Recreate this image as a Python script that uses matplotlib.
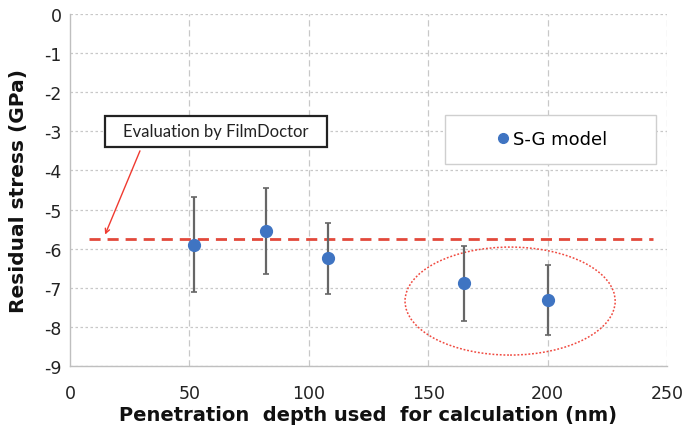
import matplotlib
matplotlib.use("Agg")
import matplotlib.pyplot as plt
from matplotlib.patches import Ellipse, Rectangle
from matplotlib.lines import Line2D

depth = [52, 82, 108, 165, 200]
stress = [-5.90, -5.54, -6.25, -6.89, -7.31]
err = [1.21, 1.10, 0.90, 0.96, 0.90]
film_doctor = -5.75
xticks = [0, 50, 100, 150, 200, 250]
yticks = [0, -1, -2, -3, -4, -5, -6, -7, -8, -9]

plt.rcParams['font.family'] = ['DejaVu Sans']
plt.rcParams['axes.unicode_minus'] = False
fig = plt.figure(figsize=(6.85, 4.27), dpi=100)
ax = fig.add_axes([0.1022, 0.1405, 0.8715, 0.8245])

ax.set_xlim(0, 250)
ax.set_ylim(-9, 0)
ax.set_xticks(xticks)
ax.set_yticks(yticks)
ax.tick_params(length=0, labelsize=12.5, colors='#222222')
ax.tick_params(axis='x', pad=13)
ax.tick_params(axis='y', pad=6)
for s in ['top', 'right']:
    ax.spines[s].set_visible(False)
for s in ['left', 'bottom']:
    ax.spines[s].set_color('#bfbfbf')
    ax.spines[s].set_linewidth(1.0)

for y in yticks:
    ax.axhline(y, color='#c8c8c8', lw=0.9, ls=(0, (2, 2)), zorder=0)
for x in xticks[1:]:
    ax.axvline(x, color='#c8c8c8', lw=0.9, ls=(0, (5, 3)), zorder=0)

ax.plot([8, 244], [film_doctor, film_doctor], color='#e2493b', lw=2.0,
        ls=(0, (4, 2.5)), zorder=2)

ax.errorbar(depth, stress, yerr=err, fmt='o', color='#3f74c2', ms=8.5,
            ecolor='#666666', elinewidth=1.6, capsize=2.2, capthick=1.2, zorder=3)

ell = Ellipse((184.3, -7.34), 88, 2.76, fill=False, edgecolor='#f04a40',
              lw=1.1, ls=(0, (1.2, 1.2)), zorder=2)
ax.add_patch(ell)

# Annotation box
ax.add_patch(Rectangle((0.0586, 0.622), 0.372, 0.088, transform=ax.transAxes,
                       facecolor='white', edgecolor='#222222', lw=1.6, zorder=4))
ax.text(0.2446, 0.668, 'Evaluation by FilmDoctor', transform=ax.transAxes,
        ha='center', va='center', fontsize=12, family='Lato', color='#222222', zorder=5)
ax.annotate('', xy=(14.7, -5.64), xytext=(29.3, -3.5),
            arrowprops=dict(arrowstyle='->', color='#f03a30', lw=1.0,
                            shrinkA=0, shrinkB=0, mutation_scale=8), zorder=5)

# Legend box
ax.add_patch(Rectangle((0.628, 0.574), 0.353, 0.139, transform=ax.transAxes,
                       facecolor='white', edgecolor='#cfcfcf', lw=1.0, zorder=4))
h = Line2D([], [], marker='o', color='#3f74c2', ls='none', ms=7)
leg = ax.legend([h], ['S-G model'], loc='center', bbox_to_anchor=(0.808, 0.645),
                bbox_transform=ax.transAxes, frameon=False, fontsize=13,
                handlelength=0.6, handletextpad=0.3, borderpad=0)
leg.set_zorder(6)

ax.set_xlabel('Penetration  depth used  for calculation (nm)', fontsize=14,
              fontweight='bold', labelpad=2, color='#111111')
ax.set_ylabel('Residual stress (GPa)', fontsize=14.5, fontweight='bold',
              labelpad=12, color='#111111')

fig.savefig('out.png', dpi=100)
